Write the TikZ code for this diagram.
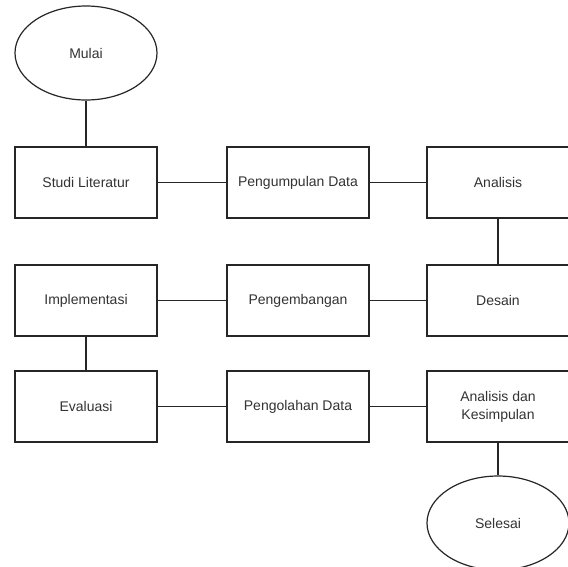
\documentclass[tikz,border=0pt]{standalone}
\usepackage{fontspec}
\setmainfont{Liberation Sans}
\usetikzlibrary{shapes.geometric}
\tikzset{
  every node/.style={font=\fontsize{14}{18}\selectfont, text=black!80},
  box/.style={draw=black!85, line width=1.2pt, rectangle, minimum width=142pt, minimum height=71pt, inner sep=0pt, align=center, fill=white},
  oval/.style={draw=black!85, line width=1.2pt, ellipse, minimum width=142pt, minimum height=94pt, inner sep=0pt, fill=white},
  conn/.style={draw=black!85, line width=1.2pt}
}
\begin{document}
\begin{tikzpicture}[x=1pt,y=-1pt]
\useasboundingbox (0,0) rectangle (568,566);
\node[oval] (mulai) at (86,53) {Mulai};
\node[box] (studi) at (86,182.5) {Studi Literatur};
\node[box] (kumpul) at (298,182.5) {Pengumpulan Data};
\node[box] (analisis) at (498,182.5) {Analisis};
\node[box] (impl) at (86,300.5) {Implementasi};
\node[box] (kembang) at (298,300.5) {Pengembangan};
\node[box] (desain) at (498,300.5) {Desain};
\node[box] (eval) at (86,406.5) {Evaluasi};
\node[box] (olah) at (298,406.5) {Pengolahan Data};
\node[box] (ak) at (498,406.5) {Analisis dan\\Kesimpulan};
\node[oval] (selesai) at (498,523) {Selesai};
\draw[conn] (mulai) -- (studi);
\draw[conn] (studi) -- (kumpul);
\draw[conn] (kumpul) -- (analisis);
\draw[conn] (analisis) -- (desain);
\draw[conn] (desain) -- (kembang);
\draw[conn] (kembang) -- (impl);
\draw[conn] (impl) -- (eval);
\draw[conn] (eval) -- (olah);
\draw[conn] (olah) -- (ak);
\draw[conn] (ak) -- (selesai);
\end{tikzpicture}
\end{document}
